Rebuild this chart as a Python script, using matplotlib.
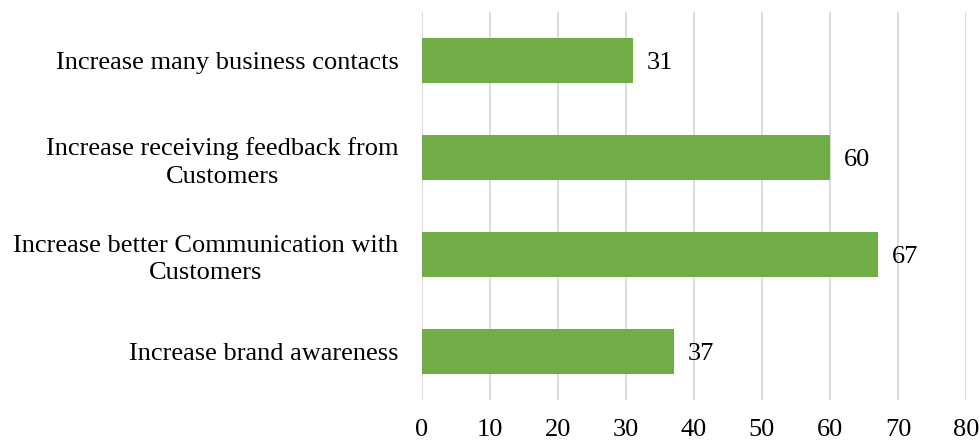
import matplotlib.pyplot as plt

# data (top to bottom)
categories = [
    "Increase many business contacts",
    "Increase receiving feedback from\nCustomers",
    "Increase better Communication with\nCustomers",
    "Increase brand awareness",
]
values = [31, 60, 67, 37]
xticks = [0, 10, 20, 30, 40, 50, 60, 70, 80]

plt.rcParams['font.family'] = ['Liberation Serif', 'DejaVu Serif']

fig = plt.figure(figsize=(9.8, 4.43), dpi=100)
ax = fig.add_axes([0.4306, 0.097, 0.5551, 0.876])

ypos = list(range(len(categories)))
bars = ax.barh(ypos, values, height=0.46, color='#70AD47', zorder=3)
ax.set_ylim(3.5, -0.5)
ax.set_xlim(0, 80)

# value labels to the right of each bar
for b, v in zip(bars, values):
    ax.annotate(str(v), (b.get_width(), b.get_y() + b.get_height() / 2),
                xytext=(10, -2), textcoords='offset points',
                ha='left', va='center', fontsize=19, color='#000000')

ax.set_yticks(ypos)
ax.set_yticklabels(categories, fontsize=19, ha='right',
                   multialignment='center', linespacing=1.32)
ax.set_xticks(xticks)
ax.set_xticklabels([str(t) for t in xticks], fontsize=19)
ax.tick_params(axis='y', length=0, pad=17)
ax.tick_params(axis='x', length=0, pad=14)

ax.grid(axis='x', color='#D9D9D9', linewidth=1.3, zorder=0)
for s in ax.spines.values():
    s.set_visible(False)

fig.savefig('out.png', dpi=100)
